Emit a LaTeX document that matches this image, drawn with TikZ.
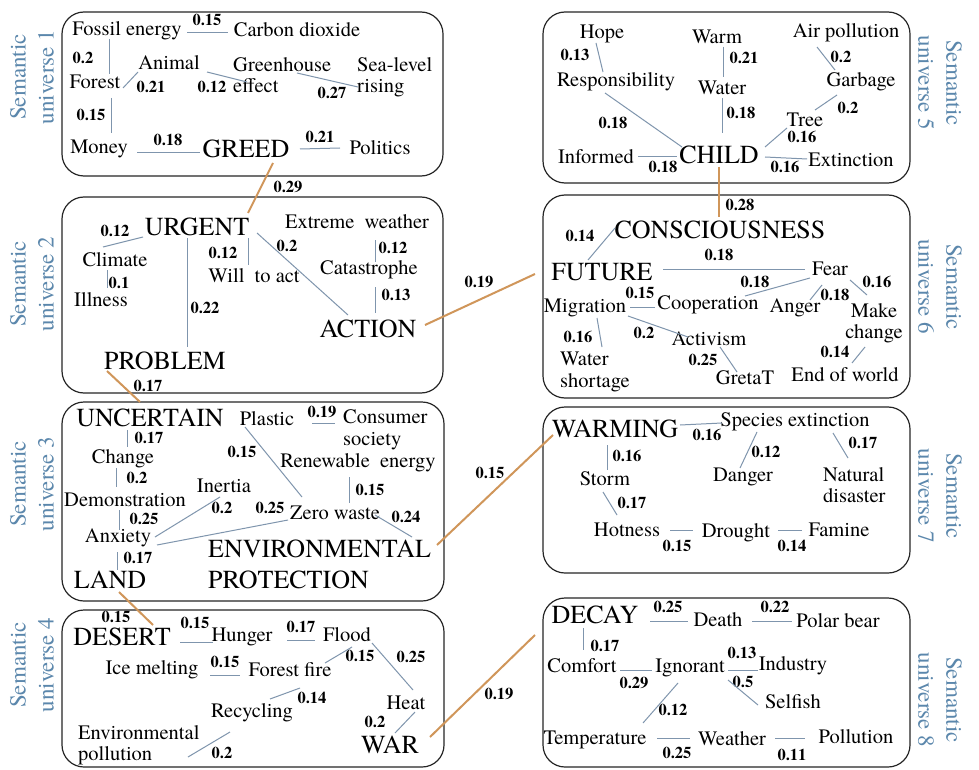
\documentclass[tikz,border=0pt]{standalone}
\usepackage{fontspec}
\setmainfont{TeX Gyre Termes}
\definecolor{edgec}{HTML}{7F95AD}
\definecolor{orangec}{HTML}{D0965A}
\definecolor{labc}{HTML}{5B87AC}
\newcommand\lnk[4]{\draw[edge] ([shift={(#2)}]#1) -- ([shift={(#4)}]#3);}
\newcommand\olnk[4]{\draw[oedge] ([shift={(#2)}]#1) -- ([shift={(#4)}]#3);}
\begin{document}
\begin{tikzpicture}[x=1pt,y=-1pt,
  w/.style={inner sep=0pt, font=\fontsize{20.5}{21.5}\selectfont},
  big/.style={inner sep=0pt, font=\fontsize{26}{31}\selectfont},
  num/.style={inner sep=0pt, font=\fontsize{16.5}{18}\selectfont\bfseries},
  lab/.style={inner sep=0pt, text=labc, align=center, font=\fontsize{23}{28}\selectfont},
  box/.style={draw=black!85, line width=1.2pt, rounded corners=22pt},
  edge/.style={draw=edgec, line width=1pt},
  oedge/.style={draw=orangec, line width=2pt}]
\useasboundingbox (0,0) rectangle (979,770);
\fill[white] (0,0) rectangle (979,770);

% boxes
\draw[box] (62,12) rectangle (443,176);
\draw[box] (62,197) rectangle (443,393);
\draw[box] (62,402) rectangle (444,601);
\draw[box] (62,610) rectangle (444,767);
\draw[box] (543,12) rectangle (910,183);
\draw[box] (543,195) rectangle (910,398);
\draw[box] (543,407) rectangle (910,573);
\draw[box] (543,598) rectangle (910,767);

% universe labels
\node[lab,rotate=90] (u1) at (32,77) {Semantic\\universe 1};
\node[lab,rotate=90] (u2) at (32,284) {Semantic\\universe 2};
\node[lab,rotate=90] (u3) at (32,484) {Semantic\\universe 3};
\node[lab,rotate=90] (u4) at (32,665) {Semantic\\universe 4};
\node[lab,rotate=-90] (u5) at (940,83) {Semantic\\universe 5};
\node[lab,rotate=-90] (u6) at (940,287) {Semantic\\universe 6};
\node[lab,rotate=-90] (u7) at (940,496) {Semantic\\universe 7};
\node[lab,rotate=-90] (u8) at (940,700) {Semantic\\universe 8};

% ---------- box 1
\node[w] (fossil) at (127,31) {Fossil energy};
\node[w] (carbon) at (297,30) {Carbon dioxide};
\node[w] (forest) at (95,82) {Forest};
\node[w] (animal) at (169,63) {Animal};
\node[w,align=left,anchor=west] (gh) at (233,75) {Greenhouse\\effect};
\node[w,align=left,anchor=west] (sea) at (357,77) {Sea-level\\rising};
\node[w] (money) at (99,149) {Money};
\node[big] (greed) at (246,149) {GREED};
\node[w] (politics) at (380,148) {Politics};
\node[num] (n1) at (207,20) {0.15};
\node[num] (n2) at (83,58) {0.2};
\node[num] (n3) at (151,87) {0.21};
\node[num] (n4) at (212,87) {0.12};
\node[num] (n5) at (332,93) {0.27};
\node[num] (n6) at (91,115) {0.15};
\node[num] (n7) at (168,140) {0.18};
\node[num] (n8) at (320,137) {0.21};
\lnk{fossil.center}{187-127,33-31}{carbon.center}{228-297,33-30}
\lnk{fossil.center}{109-127,39-31}{forest.center}{109-95,74-82}
\lnk{forest.center}{123-95,88-82}{animal.center}{138-169,72-63}
\lnk{animal.center}{207-169,72-63}{gh.west}{247-233,82-75}
\lnk{gh.west}{297-233,73-75}{sea.west}{358-357,87-77}
\lnk{forest.center}{111-95,98-82}{money.center}{111-99,133-149}
\lnk{money.center}{137-99,153-149}{greed.center}{200-246,153-149}
\lnk{greed.center}{300-246,149-149}{politics.center}{340-380,148-148}

% ---------- box 2
\node[big] (urgent) at (197,227) {URGENT};
\node[w] (climate) at (115,260) {Climate};
\node[w] (illness) at (101,300) {Illness};
\node[big] (problem) at (165,361) {PROBLEM};
\node[w] (will) at (254,276) {Will\enspace to act};
\node[w] (extreme) at (357,222) {Extreme\enspace weather};
\node[w] (catas) at (369,270) {Catastrophe};
\node[big] (action) at (368,329) {ACTION};
\node[num] (n9) at (115,231) {0.12};
\node[num] (n10) at (119,283) {0.1};
\node[num] (n11) at (205,308) {0.22};
\node[num] (n12) at (223,253) {0.12};
\node[num] (n13) at (287,246) {0.2};
\node[num] (n14) at (393,248) {0.12};
\node[num] (n15) at (396,295) {0.13};
\lnk{urgent.center}{143-197,237-227}{climate.center}{103-115,247-260}
\lnk{climate.center}{107-115,270-260}{illness.center}{107-101,288-300}
\lnk{urgent.center}{187-197,238-227}{problem.center}{187-165,347-361}
\lnk{urgent.center}{248-197,238-227}{will.center}{248-254,265-276}
\lnk{urgent.center}{257-197,233-227}{action.center}{348-368,315-329}
\lnk{extreme.center}{375-357,240-222}{catas.center}{375-369,262-270}
\lnk{catas.center}{375-369,287-270}{action.center}{375-368,313-329}

% ---------- box 3
\node[big] (uncertain) at (150,418) {UNCERTAIN};
\node[w] (plastic) at (267,419) {Plastic};
\node[w,align=left,anchor=west] (consumer) at (343,430) {Consumer\\society};
\node[w] (change) at (123,459) {Change};
\node[w] (renew) at (358,463) {Renewable\enspace energy};
\node[w] (demo) at (125,500) {Demonstration};
\node[w] (inertia) at (224,486) {Inertia};
\node[w] (zero) at (335,513) {Zero waste};
\node[w] (anxiety) at (118,538) {Anxiety};
\node[big,align=left,anchor=west] (env) at (208,564) {ENVIRONMENTAL\\PROTECTION};
\node[big] (land) at (110,580) {LAND};
\node[num] (n16) at (322,412) {0.19};
\node[num] (n17) at (149,438) {0.17};
\node[num] (n18) at (242,452) {0.15};
\node[num] (n19) at (137,478) {0.2};
\node[num] (n20) at (370,490) {0.15};
\node[num] (n21) at (222,508) {0.2};
\node[num] (n22) at (270,508) {0.25};
\node[num] (n23) at (406,517) {0.24};
\node[num] (n24) at (144,519) {0.25};
\node[num] (n25) at (138,558) {0.17};
\lnk{plastic.center}{312-267,423-419}{consumer.west}{335-343,423-430}
\lnk{uncertain.center}{127-150,430-418}{change.center}{127-123,447-459}
\lnk{plastic.center}{245-267,427-419}{zero.center}{302-335,497-513}
\lnk{change.center}{116-123,468-459}{demo.center}{116-125,487-500}
\lnk{renew.center}{349-358,477-463}{zero.center}{349-335,503-513}
\lnk{demo.center}{119-125,510-500}{anxiety.center}{119-118,530-538}
\lnk{anxiety.center}{155-118,537-538}{inertia.center}{220-224,497-486}
\lnk{anxiety.center}{157-118,545-538}{zero.center}{288-335,520-513}
\lnk{zero.center}{375-335,515-513}{env.west}{412-208,537-564}
\lnk{anxiety.center}{117-118,552-538}{land.center}{117-110,570-580}

% ---------- box 4
\node[big] (desert) at (122,637) {DESERT};
\node[w] (hunger) at (242,637) {Hunger};
\node[w] (flood) at (347,635) {Flood};
\node[w] (ice) at (152,670) {Ice melting};
\node[w] (ffire) at (290,670) {Forest fire};
\node[w] (heat) at (406,703) {Heat};
\node[w] (recyc) at (252,713) {Recycling};
\node[w,align=left,anchor=west] (envpol) at (78,745) {Environmental\\pollution};
\node[big] (war) at (390,745) {WAR};
\node[num] (n26) at (195,623) {0.15};
\node[num] (n27) at (301,627) {0.17};
\node[num] (n28) at (360,656) {0.15};
\node[num] (n29) at (411,657) {0.25};
\node[num] (n30) at (225,662) {0.15};
\node[num] (n31) at (312,698) {0.14};
\node[num] (n32) at (375,722) {0.2};
\node[num] (n33) at (222,753) {0.2};
\lnk{desert.center}{180-122,642-637}{hunger.center}{213-242,642-637}
\lnk{hunger.center}{287-242,640-637}{flood.center}{315-347,640-635}
\lnk{flood.center}{372-347,643-635}{heat.center}{413-406,690-703}
\lnk{ice.center}{210-152,675-670}{ffire.center}{240-290,675-670}
\lnk{ffire.center}{325-290,663-670}{flood.center}{352-347,647-635}
\lnk{ffire.center}{300-290,688-670}{recyc.center}{270-252,699-713}
\lnk{heat.center}{415-406,712-703}{war.center}{395-390,733-745}
\lnk{recyc.center}{230-252,732-713}{envpol.west}{188-78,757-745}

% ---------- box 5
\node[w] (hope) at (602,34) {Hope};
\node[w] (resp) at (616,82) {Responsibility};
\node[w] (warm) at (717,37) {Warm};
\node[w] (water) at (722,88) {Water};
\node[w] (airpol) at (846,33) {Air pollution};
\node[w] (garbage) at (861,82) {Garbage};
\node[w] (tree) at (805,120) {Tree};
\node[w] (informed) at (596,157) {Informed};
\node[big] (child) at (719,155) {CHILD};
\node[w] (extinct) at (851,160) {Extinction};
\node[num] (n34) at (575,55) {0.13};
\node[num] (n35) at (744,58) {0.21};
\node[num] (n36) at (741,113) {0.18};
\node[num] (n37) at (841,57) {0.2};
\node[num] (n38) at (848,108) {0.2};
\node[num] (n39) at (802,137) {0.16};
\node[num] (n40) at (613,123) {0.18};
\node[num] (n41) at (663,167) {0.18};
\node[num] (n42) at (785,167) {0.16};
\lnk{hope.center}{596-602,43-34}{resp.center}{603-616,72-82}
\lnk{warm.center}{723-717,47-37}{water.center}{723-722,77-88}
\lnk{water.center}{722-722,98-88}{child.center}{722-719,133-155}
\lnk{airpol.center}{817-846,47-33}{garbage.center}{835-861,70-82}
\lnk{garbage.center}{837-861,95-82}{tree.center}{815-805,110-120}
\lnk{child.center}{765-719,147-155}{tree.center}{787-805,128-120}
\lnk{resp.center}{605-616,93-82}{child.center}{682-719,147-155}
\lnk{informed.center}{638-596,157-157}{child.center}{677-719,157-155}
\lnk{child.center}{765-719,157-155}{extinct.center}{807-851,159-160}

% ---------- box 6
\node[big] (consc) at (720,230) {CONSCIOUSNESS};
\node[big] (future) at (602,272) {FUTURE};
\node[w] (fear) at (830,269) {Fear};
\node[w] (migr) at (585,308) {Migration};
\node[w] (coop) at (708,305) {Cooperation};
\node[w] (anger) at (795,308) {Anger};
\node[w,align=center] (make) at (874,323) {Make\\change};
\node[w] (activ) at (709,339) {Activism};
\node[w,align=left,anchor=west] (wshort) at (560,372) {Water\\shortage};
\node[w] (greta) at (745,378) {GretaT};
\node[w] (endw) at (845,375) {End of world};
\node[num] (n43) at (580,236) {0.14};
\node[num] (n44) at (719,255) {0.18};
\node[num] (n45) at (755,282) {0.18};
\node[num] (n46) at (877,282) {0.16};
\node[num] (n47) at (835,295) {0.18};
\node[num] (n48) at (640,293) {0.15};
\node[num] (n49) at (578,337) {0.16};
\node[num] (n50) at (644,333) {0.2};
\node[num] (n51) at (703,360) {0.25};
\node[num] (n52) at (835,352) {0.14};
\lnk{consc.center}{615-720,228-230}{future.center}{588-602,260-272}
\lnk{future.center}{663-602,269-272}{fear.center}{805-830,269-269}
\lnk{fear.center}{810-830,278-269}{coop.center}{745-708,296-305}
\lnk{fear.center}{850-830,280-269}{make.center}{867-874,295-323}
\lnk{fear.center}{822-830,285-269}{anger.center}{810-795,300-308}
\lnk{migr.center}{630-585,307-308}{coop.center}{655-708,307-305}
\lnk{migr.center}{597-585,318-308}{wshort.west}{602-560,347-372}
\lnk{migr.center}{628-585,316-308}{activ.center}{688-709,337-339}
\lnk{activ.center}{720-709,347-339}{greta.center}{737-745,372-378}
\lnk{make.center}{865-874,347-323}{endw.center}{852-845,363-375}

% ---------- box 7
\node[big] (warming) at (615,429) {WARMING};
\node[w] (species) at (795,422) {Species extinction};
\node[w] (danger) at (743,477) {Danger};
\node[w,align=left,anchor=west] (natural) at (823,485) {Natural\\disaster};
\node[w] (storm) at (605,479) {Storm};
\node[w] (hotness) at (627,530) {Hotness};
\node[w] (drought) at (736,533) {Drought};
\node[w] (famine) at (839,530) {Famine};
\node[num] (n53) at (707,435) {0.16};
\node[num] (n54) at (766,452) {0.12};
\node[num] (n55) at (863,443) {0.17};
\node[num] (n56) at (627,456) {0.16};
\node[num] (n57) at (632,503) {0.17};
\node[num] (n58) at (677,546) {0.15};
\node[num] (n59) at (792,546) {0.14};
\lnk{warming.center}{680-615,425-429}{species.center}{722-795,423-422}
\lnk{species.center}{757-795,432-422}{danger.center}{740-743,468-477}
\lnk{species.center}{833-795,433-422}{natural.west}{848-823,458-485}
\lnk{warming.center}{607-615,445-429}{storm.center}{607-605,470-479}
\lnk{storm.center}{603-605,492-479}{hotness.center}{617-627,515-530}
\lnk{hotness.center}{670-627,530-530}{drought.center}{693-736,530-533}
\lnk{drought.center}{778-736,530-533}{famine.center}{802-839,530-530}

% ---------- box 8
\node[big] (decay) at (595,615) {DECAY};
\node[w] (death) at (718,620) {Death};
\node[w] (polar) at (838,621) {Polar bear};
\node[w] (comfort) at (582,666) {Comfort};
\node[w] (ignorant) at (690,668) {Ignorant};
\node[w] (industry) at (793,666) {Industry};
\node[w] (selfish) at (793,702) {Selfish};
\node[w] (temp) at (595,740) {Temperature};
\node[w] (weather) at (732,739) {Weather};
\node[w] (pollution) at (856,737) {Pollution};
\node[num] (n60) at (668,607) {0.25};
\node[num] (n61) at (775,607) {0.22};
\node[num] (n62) at (605,646) {0.17};
\node[num] (n63) at (634,683) {0.29};
\node[num] (n64) at (742,653) {0.13};
\node[num] (n65) at (743,682) {0.5};
\node[num] (n66) at (673,710) {0.12};
\node[num] (n67) at (677,753) {0.25};
\node[num] (n68) at (792,755) {0.11};
\lnk{decay.center}{650-595,621-615}{death.center}{688-718,621-620}
\lnk{death.center}{752-718,621-620}{polar.center}{792-838,621-621}
\lnk{decay.center}{583-595,628-615}{comfort.center}{583-582,650-666}
\lnk{comfort.center}{620-582,670-666}{ignorant.center}{652-690,670-668}
\lnk{ignorant.center}{728-690,670-668}{industry.center}{758-793,670-666}
\lnk{ignorant.center}{728-690,680-668}{selfish.center}{758-793,705-702}
\lnk{ignorant.center}{678-690,683-668}{temp.center}{643-595,723-740}
\lnk{temp.center}{657-595,738-740}{weather.center}{690-732,738-739}
\lnk{weather.center}{775-732,738-739}{pollution.center}{805-856,738-737}

% ---------- links between universes
\olnk{greed.center}{273-246,163-149}{urgent.center}{248-197,213-227}
\olnk{problem.center}{107-165,371-361}{uncertain.center}{140-150,402-418}
\olnk{land.center}{119-110,592-580}{desert.center}{153-122,625-637}
\olnk{action.center}{425-368,325-329}{future.center}{535-602,274-272}
\olnk{env.west}{437-208,545-564}{warming.center}{553-615,435-429}
\olnk{war.center}{430-390,737-745}{decay.center}{535-595,635-615}
\olnk{child.center}{719-719,167-155}{consc.center}{719-720,217-230}
\node[num] (o1) at (288,187) {0.29};
\node[num] (o2) at (148,386) {0.17};
\node[num] (o3) at (116,617) {0.15};
\node[num] (o4) at (479,282) {0.19};
\node[num] (o5) at (490,473) {0.15};
\node[num] (o6) at (499,694) {0.19};
\node[num] (o7) at (740,205) {0.28};
\end{tikzpicture}
\end{document}
